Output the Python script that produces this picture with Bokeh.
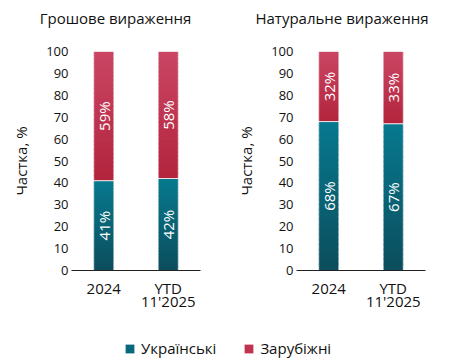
import numpy as np
from bokeh.plotting import figure
from bokeh.models import Range1d, FactorRange, ColumnDataSource, Legend, LegendItem, FixedTicker
from bokeh.layouts import row, column
from bokeh.embed import file_html
from bokeh.resources import INLINE
from bokeh.core.properties import value

categories = ["2024", "YTD\n11'2025"]
money_ukr = [41, 42]
money_for = [59, 58]
natural_ukr = [68, 67]
natural_for = [32, 33]
titles = ["Грошове вираження", "Натуральне вираження"]
y_label = "Частка, %"
series_names = ["Українські", "Зарубіжні"]
y_ticks = list(range(0, 101, 10))

FONT = "Open Sans"
TEAL = ("#0b4d5c", "#07798f")   # bottom, top
RED = ("#b2243c", "#ca4664")
TEAL_MID = "#08687d"
RED_MID = "#c0334f"
N_SLICES = 30
TITLE_H = 32


def hex2rgb(h):
    h = h.lstrip("#")
    return np.array([int(h[i:i + 2], 16) for i in (0, 2, 4)], dtype=float)


def lerp(c1, c2, t):
    a, b = hex2rgb(c1), hex2rgb(c2)
    c = a + (b - a) * t
    return "#%02x%02x%02x" % tuple(int(round(v)) for v in c)


def make_title(text, width, cx):
    t = figure(width=width, height=TITLE_H, output_backend="svg",
               toolbar_location=None, x_range=Range1d(0, width),
               y_range=Range1d(0, TITLE_H), x_axis_type=None, y_axis_type=None,
               min_border=0, outline_line_color=None)
    t.xgrid.visible = False
    t.ygrid.visible = False
    t.text(x=[cx], y=[TITLE_H - 17], text=[text], text_align="center",
           text_baseline="alphabetic", text_color="#111111",
           text_font=value(FONT), text_font_size="15px")
    return t


def make_panel(ukr, forg, width, bl, br):
    p = figure(x_range=FactorRange(*categories, range_padding=0),
               y_range=Range1d(0, 100), width=width, height=313 - TITLE_H,
               output_backend="svg", toolbar_location=None,
               min_border_left=bl, min_border_right=br,
               min_border_top=51 - TITLE_H, min_border_bottom=42)
    p.outline_line_color = None
    p.xgrid.visible = False
    p.ygrid.visible = False

    xs, bs, ts, cs = [], [], [], []
    ox, ob, ot = [], [], []
    lx, ly, lt = [], [], []
    for cat, u, f in zip(categories, ukr, forg):
        for (b0, t0, cols) in ((0, u, TEAL), (u, u + f, RED)):
            h = (t0 - b0) / N_SLICES
            for k in range(N_SLICES):
                xs.append(cat)
                bs.append(b0 + k * h)
                ts.append(min(t0, b0 + (k + 1.6) * h))
                cs.append(lerp(cols[0], cols[1], (k + 0.5) / N_SLICES))
            ox.append(cat); ob.append(b0); ot.append(t0)
            lx.append(cat); ly.append((b0 + t0) / 2); lt.append("%d%%" % (t0 - b0))
    src = ColumnDataSource(dict(x=xs, b=bs, t=ts, c=cs))
    p.vbar(x="x", bottom="b", top="t", width=0.31, fill_color="c",
           line_color=None, source=src)
    p.vbar(x=ox, bottom=ob, top=ot, width=0.31, fill_color=None,
           line_color="white", line_alpha=0.55, line_width=1)
    p.text(x=lx, y=ly, text=lt, angle=np.pi / 2, text_align="center",
           text_baseline="middle", text_color="white",
           text_font=value(FONT), text_font_size="15px")

    p.yaxis.ticker = FixedTicker(ticks=y_ticks)
    p.yaxis.axis_line_color = None
    p.yaxis.major_tick_line_color = None
    p.yaxis.minor_tick_line_color = None
    p.yaxis.major_tick_out = 0
    p.yaxis.major_label_standoff = 3
    p.yaxis.major_label_text_font = FONT
    p.yaxis.major_label_text_font_size = "13px"
    p.yaxis.major_label_text_color = "#111111"
    p.yaxis.axis_label = y_label
    p.yaxis.axis_label_text_font = FONT
    p.yaxis.axis_label_text_font_size = "15px"
    p.yaxis.axis_label_text_font_style = "normal"
    p.yaxis.axis_label_text_color = "#111111"
    p.yaxis.axis_label_standoff = 12

    p.xaxis.axis_line_color = "#222222"
    p.xaxis.axis_line_width = 1
    p.xaxis.major_tick_line_color = None
    p.xaxis.minor_tick_line_color = None
    p.xaxis.major_tick_out = 0
    p.xaxis.major_label_standoff = 7
    p.xaxis.major_label_text_font = FONT
    p.xaxis.major_label_text_font_size = "15px"
    p.xaxis.major_label_text_line_height = 0.65
    p.xaxis.major_label_text_color = "#111111"
    return p


t1 = make_title(titles[0], 224, 115)
t2 = make_title(titles[1], 225, 117.5)
p1 = make_panel(money_ukr, money_for, 224, 71, 24)
p2 = make_panel(natural_ukr, natural_for, 225, 72, 24)

lf = figure(width=449, height=47, output_backend="svg", toolbar_location=None,
            x_range=Range1d(0, 1), y_range=Range1d(0, 1),
            x_axis_type=None, y_axis_type=None,
            min_border=0, outline_line_color=None)
lf.xgrid.visible = False
lf.ygrid.visible = False
r1 = lf.vbar(x=[5], top=[5], bottom=[4], width=1, fill_color=TEAL_MID, line_color=None)
r2 = lf.vbar(x=[5], top=[5], bottom=[4], width=1, fill_color=RED_MID, line_color=None)
legend = Legend(items=[LegendItem(label=series_names[0], renderers=[r1]),
                       LegendItem(label=series_names[1], renderers=[r2])],
                location=(124, 2), orientation="horizontal",
                glyph_width=11, glyph_height=11, label_standoff=6, spacing=27,
                padding=0, margin=0, border_line_color=None,
                background_fill_alpha=0, label_text_font=FONT,
                label_text_font_size="15px", label_text_color="#111111",
                label_height=14)
lf.add_layout(legend)

layout = column(row(t1, t2), row(p1, p2), lf)
open("out.html", "w").write(file_html(layout, INLINE))
